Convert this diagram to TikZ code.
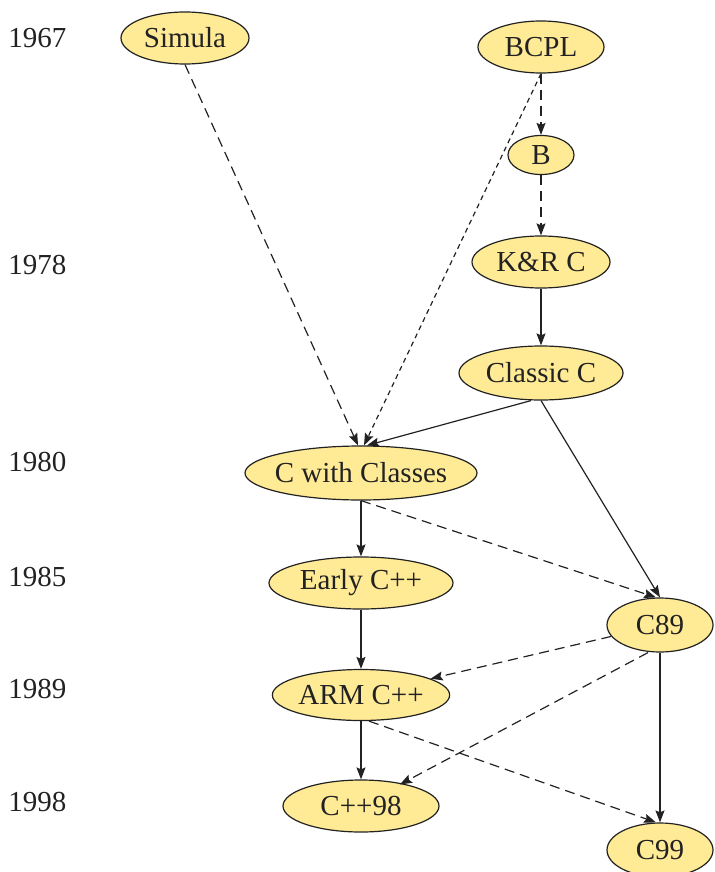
\documentclass[tikz,border=0pt]{standalone}
\usepackage{fontspec}
\setmainfont{Liberation Serif}
\usepackage{xcolor}
\definecolor{langFill}{HTML}{FFEA96}
\definecolor{langInk}{HTML}{222222}
\usetikzlibrary{shapes.geometric,arrows.meta}

\begin{document}
\begin{tikzpicture}[
  x=0.5pt,y=-0.5pt,
  lang/.style={
    ellipse,draw=langInk,fill=langFill,
    line width=0.6pt,inner sep=0pt,
    minimum height=26pt,minimum width=#1,
    font=\fontsize{14.5}{17}\selectfont,text=langInk
  },
  year/.style={anchor=west,inner xsep=0pt,font=\fontsize{14.5}{17}\selectfont,text=langInk},
  derive/.style={-{Stealth[length=6pt,width=4.5pt,inset=1pt]},line width=0.6pt,color=langInk},
  influence/.style={derive,dash pattern=on 5pt off 3pt},
  borrow/.style={derive,dash pattern=on 2.5pt off 2pt}
]
\useasboundingbox (0,0) rectangle (715,872);

%% ── Years ────────────────────────────────────────────────
\node[year] (y67) at (8,38)  {1967};
\node[year] (y78) at (8,265) {1978};
\node[year] (y80) at (8,462) {1980};
\node[year] (y85) at (8,577) {1985};
\node[year] (y89) at (8,689) {1989};
\node[year] (y98) at (8,802) {1998};

%% ── Languages ────────────────────────────────────────────
\node[lang=64pt] (simula) at (185,38) {Simula};
\node[lang=63pt] (bcpl) at (541,47) {BCPL};
\node[lang=33pt,minimum height=19.5pt] (b) at (541,155) {B};
\node[lang=69pt] (knr) at (541,262) {K\&R C};
\node[lang=82pt,minimum height=27pt] (classic) at (541,373) {Classic C};
\node[lang=116pt,minimum height=27pt,inner xsep=-3pt] (cwc) at (361,473) {C with Classes};
\node[lang=92pt] (early) at (361,583) {Early C++};
\node[lang=53pt,minimum height=27pt] (c89) at (660,625) {C89};
\node[lang=80pt,minimum height=25.5pt] (arm) at (361,695) {ARM C++};
\node[lang=78pt] (cpp98) at (361,806) {C++98};
\node[lang=53pt,minimum height=27pt] (c99) at (660,850) {C99};

%% ── Links ────────────────────────────────────────────────
\draw[influence] (simula.south) -- ([xshift=-1.5pt]cwc.north);
\draw[borrow] (bcpl.south) -- ([xshift=1.5pt]cwc.north);
\draw[influence] (bcpl) -- (b);
\draw[influence] (b) -- (knr);
\draw[derive] (knr) -- (classic);
\draw[derive] ([xshift=-5pt]classic.south) -- ([xshift=3pt]cwc.north);
\draw[derive] (classic.south) -- (c89.north);
\draw[influence] (cwc.south) -- ([xshift=-2pt]c89.north);
\draw[derive] (cwc) -- (early);
\draw[derive] (early) -- (arm);
\draw[influence] (c89) -- (arm);
\draw[influence] ([xshift=-6pt]c89.south) -- ([xshift=19.5pt,yshift=-2.5pt]cpp98.north);
\draw[derive] (arm) -- (cpp98);
\draw[influence] ([xshift=4pt]arm.south) -- ([xshift=-2pt]c99.north);
\draw[derive] (c89) -- (c99);

\end{tikzpicture}
\end{document}
